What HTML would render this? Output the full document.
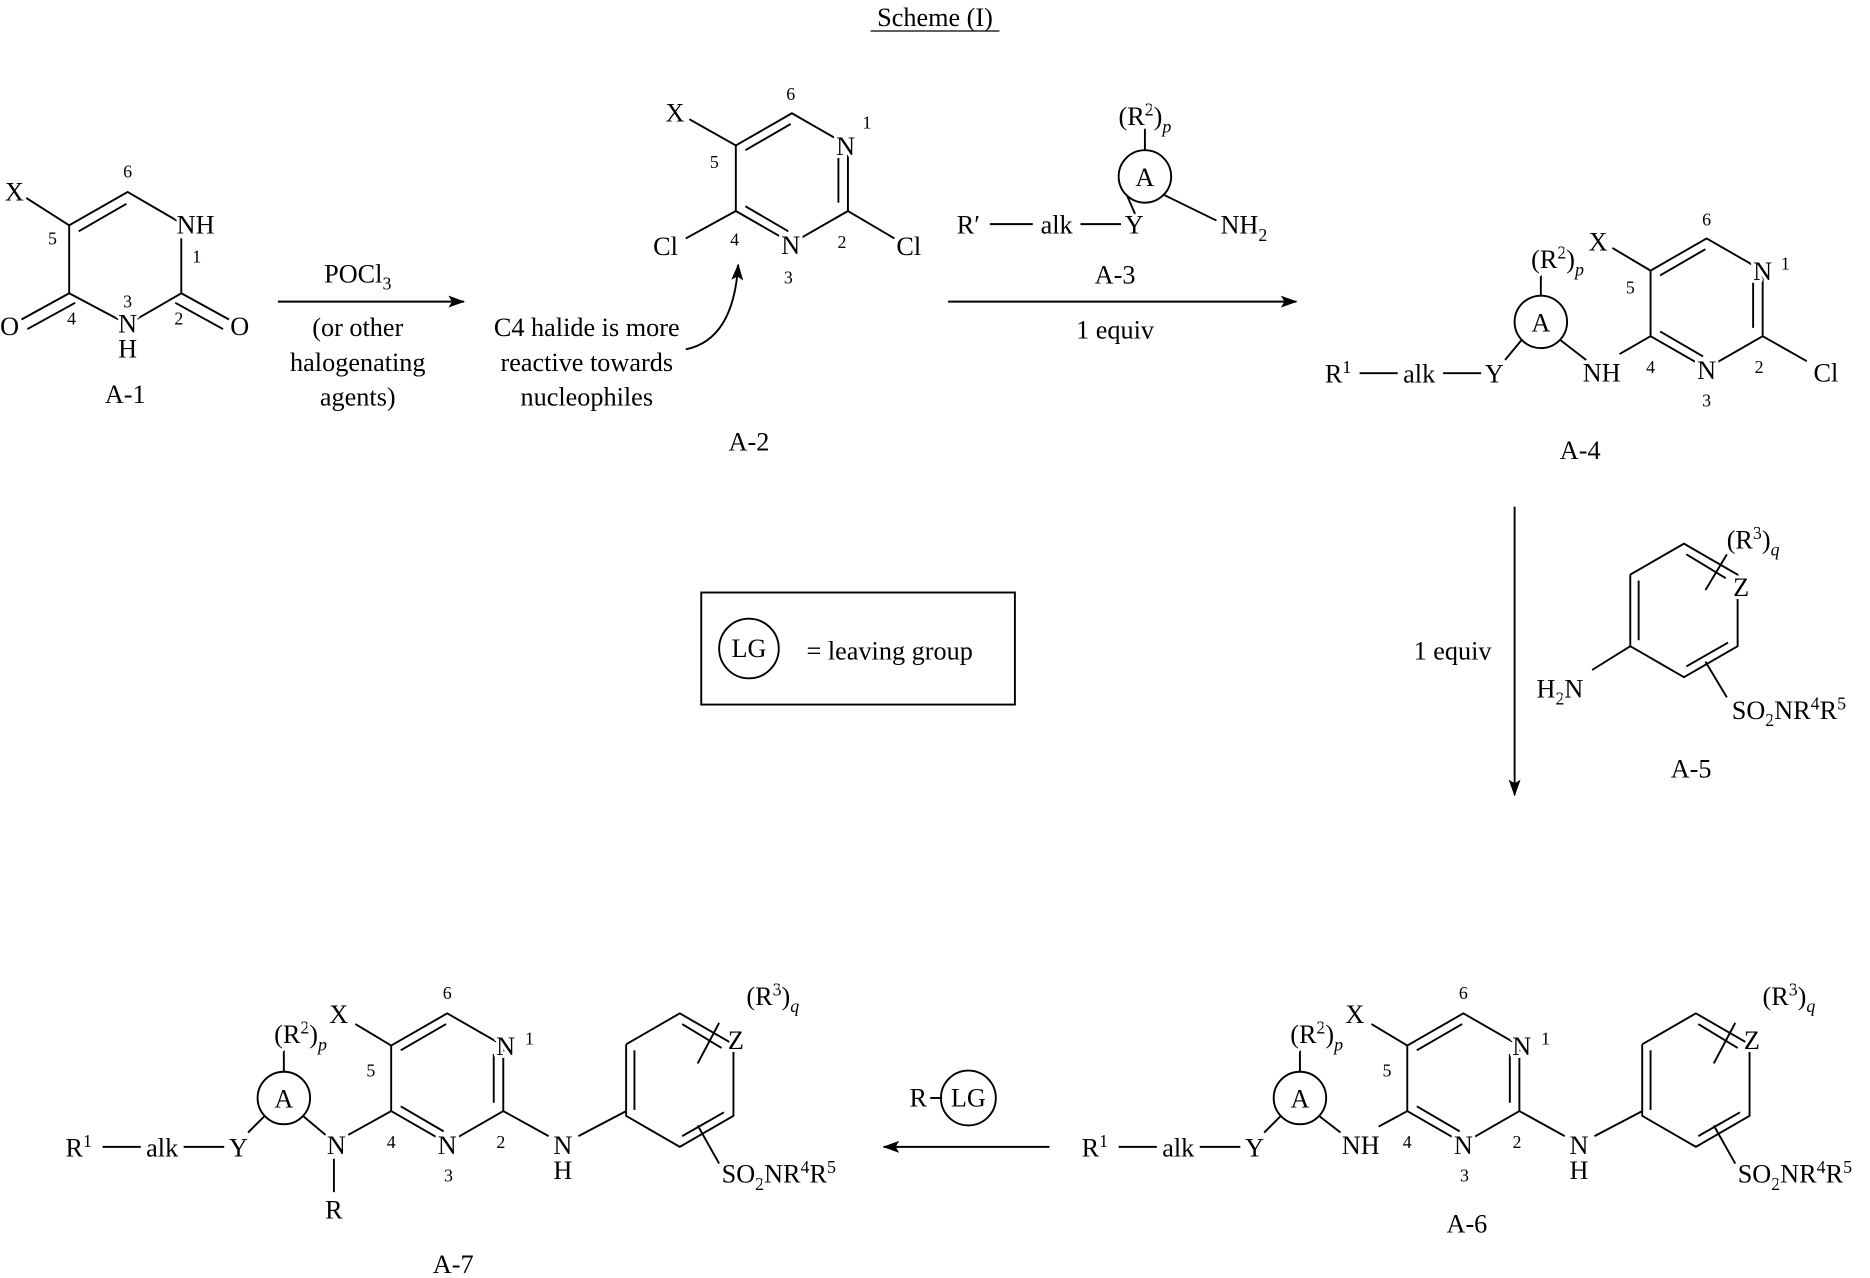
<!DOCTYPE html>
<html><head><meta charset="utf-8"><style>
html,body{margin:0;padding:0;background:#fff;}
svg{display:block;}
text{font-family:"Liberation Serif",serif;fill:#000;stroke:#fff;stroke-width:5px;paint-order:stroke;stroke-linejoin:round;}
.t{font-size:22px;}
.n{font-size:15px;}
line,path,polyline,circle,rect{stroke:#000;stroke-width:1.6;fill:none;}
</style></head><body>
<svg width="1870" height="1278" viewBox="0 0 1568 1072" preserveAspectRatio="none" xmlns="http://www.w3.org/2000/svg">
<defs>
<marker id="ah" markerWidth="14" markerHeight="10" refX="13" refY="5" orient="auto" markerUnits="userSpaceOnUse">
<path d="M0,0 L14,5 L0,10 L3,5 Z" style="fill:#000;stroke:none"/></marker>
<g id="pyr">
<polyline points="0,0 47,-27 94,0 94,55 47,82 0,55 0,0"/>
<line x1="8" y1="4" x2="46" y2="-18"/>
<line x1="86" y1="7" x2="86" y2="48"/>
<line x1="8" y1="51" x2="44" y2="72"/>
</g>
<g id="benz">
<polyline points="0,0 45,-26 90,0 90,60 45,86 0,60 0,0"/>
<line x1="7" y1="5" x2="7" y2="55"/>
<line x1="47" y1="-17" x2="80" y2="3"/>
<line x1="47" y1="77" x2="82" y2="57"/>
</g>
</defs>

<text class="t" x="784" y="22" text-anchor="middle">Scheme (I)</text>
<line x1="730" y1="26" x2="838" y2="26" style="stroke-width:1"/>

<!-- A-1 -->
<polyline points="152,200 152,246 107,272 58,246 58,189 107,161 150,186"/>
<line x1="66" y1="194" x2="106" y2="171"/>
<line x1="58" y1="189" x2="22" y2="166"/>
<line x1="58" y1="246" x2="18" y2="268"/><line x1="63" y1="254" x2="23" y2="276"/>
<line x1="152" y1="246" x2="192" y2="268"/><line x1="147" y1="254" x2="187" y2="276"/>
<text class="t" x="12" y="168" text-anchor="middle">X</text>
<text class="t" x="164" y="196" text-anchor="middle">NH</text>
<text class="t" x="107" y="279" text-anchor="middle">N</text>
<text class="t" x="107" y="300" text-anchor="middle">H</text>
<text class="t" x="8" y="281" text-anchor="middle">O</text>
<text class="t" x="201" y="281" text-anchor="middle">O</text>
<text class="n" x="107" y="149" text-anchor="middle">6</text>
<text class="n" x="44" y="205" text-anchor="middle">5</text>
<text class="n" x="165" y="220" text-anchor="middle">1</text>
<text class="n" x="107" y="258" text-anchor="middle">3</text>
<text class="n" x="60" y="272" text-anchor="middle">4</text>
<text class="n" x="150" y="272" text-anchor="middle">2</text>
<text class="t" x="105" y="338" text-anchor="middle">A-1</text>

<!-- arrow 1 -->
<line x1="233" y1="253" x2="389" y2="253" marker-end="url(#ah)"/>
<text class="t" x="300" y="237" text-anchor="middle">POCl<tspan class="n" dy="6">3</tspan></text>
<text class="t" x="300" y="282" text-anchor="middle">(or other</text>
<text class="t" x="300" y="311" text-anchor="middle">halogenating</text>
<text class="t" x="300" y="340" text-anchor="middle">agents)</text>

<!-- A-2 -->
<use href="#pyr" x="617" y="122"/>
<line x1="617" y1="177" x2="575" y2="200"/>
<line x1="711" y1="177" x2="750" y2="200"/>
<line x1="617" y1="122" x2="578" y2="100"/>
<text class="t" x="566" y="102" text-anchor="middle">X</text>
<text class="t" x="709" y="130" text-anchor="middle">N</text>
<text class="n" x="727" y="108" text-anchor="middle">1</text>
<text class="t" x="663" y="213" text-anchor="middle">N</text>
<text class="t" x="558" y="214" text-anchor="middle">Cl</text>
<text class="t" x="762" y="214" text-anchor="middle">Cl</text>
<text class="n" x="663" y="84" text-anchor="middle">6</text>
<text class="n" x="599" y="141" text-anchor="middle">5</text>
<text class="n" x="616" y="206" text-anchor="middle">4</text>
<text class="n" x="706" y="208" text-anchor="middle">2</text>
<text class="n" x="661" y="238" text-anchor="middle">3</text>
<path d="M575,293 Q615,285 619,222" marker-end="url(#ah)"/>
<text class="t" x="492" y="282" text-anchor="middle">C4 halide is more</text>
<text class="t" x="492" y="311" text-anchor="middle">reactive towards</text>
<text class="t" x="492" y="340" text-anchor="middle">nucleophiles</text>
<text class="t" x="628" y="378" text-anchor="middle">A-2</text>

<!-- A-3 -->
<circle cx="960" cy="148" r="22"/>
<line x1="960" y1="108" x2="960" y2="126"/>
<text class="t" x="960" y="156" text-anchor="middle">A</text>
<text class="t" x="960" y="105" text-anchor="middle">(R<tspan class="n" dy="-8">2</tspan><tspan dy="8">)</tspan><tspan dy="6" font-style="italic" class="n">p</tspan></text>
<line x1="830" y1="188" x2="866" y2="188"/>
<line x1="906" y1="188" x2="940" y2="188"/>
<line x1="952" y1="180" x2="945" y2="164"/>
<line x1="975" y1="163" x2="1020" y2="185"/>
<text class="t" x="812" y="196" text-anchor="middle">R′</text>
<text class="t" x="886" y="196" text-anchor="middle">alk</text>
<text class="t" x="951" y="196" text-anchor="middle">Y</text>
<text class="t" x="1043" y="196" text-anchor="middle">NH<tspan class="n" dy="6">2</tspan></text>
<text class="t" x="935" y="238" text-anchor="middle">A-3</text>

<line x1="795" y1="253" x2="1087" y2="253" marker-end="url(#ah)"/>
<text class="t" x="935" y="284" text-anchor="middle">1 equiv</text>

<!-- A-4 -->
<use href="#pyr" x="1384" y="227"/>
<line x1="1384" y1="227" x2="1352" y2="208"/>
<line x1="1384" y1="282" x2="1358" y2="297"/>
<text class="t" x="1340" y="210" text-anchor="middle">X</text>
<text class="t" x="1478" y="235" text-anchor="middle">N</text>
<text class="n" x="1497" y="226" text-anchor="middle">1</text>
<text class="t" x="1431" y="318" text-anchor="middle">N</text>
<line x1="1478" y1="282" x2="1515" y2="303"/>
<text class="t" x="1531" y="320" text-anchor="middle">Cl</text>
<text class="n" x="1431" y="189" text-anchor="middle">6</text>
<text class="n" x="1367" y="246" text-anchor="middle">5</text>
<text class="n" x="1384" y="313" text-anchor="middle">4</text>
<text class="n" x="1475" y="313" text-anchor="middle">2</text>
<text class="n" x="1431" y="341" text-anchor="middle">3</text>
<text class="t" x="1343" y="320" text-anchor="middle">NH</text>
<circle cx="1292" cy="270" r="22"/>
<line x1="1292" y1="225" x2="1292" y2="248"/>
<text class="t" x="1292" y="278" text-anchor="middle">A</text>
<text class="t" x="1306" y="225" text-anchor="middle">(R<tspan class="n" dy="-8">2</tspan><tspan dy="8">)</tspan><tspan dy="6" font-style="italic" class="n">p</tspan></text>
<line x1="1308" y1="285" x2="1330" y2="302"/>
<line x1="1276" y1="285" x2="1262" y2="302"/>
<line x1="1140" y1="313" x2="1172" y2="313"/>
<line x1="1210" y1="313" x2="1242" y2="313"/>
<text class="t" x="1122" y="321" text-anchor="middle">R<tspan class="n" dy="-8">1</tspan></text>
<text class="t" x="1190" y="321" text-anchor="middle">alk</text>
<text class="t" x="1253" y="321" text-anchor="middle">Y</text>
<text class="t" x="1325" y="385" text-anchor="middle">A-4</text>

<!-- down arrow -->
<line x1="1270" y1="425" x2="1270" y2="667" marker-end="url(#ah)"/>
<text class="t" x="1218" y="553" text-anchor="middle">1 equiv</text>

<!-- A-5 -->
<use href="#benz" x="1367" y="482"/>
<line x1="1367" y1="542" x2="1335" y2="562"/>
<line x1="1430" y1="495" x2="1448" y2="465"/>
<line x1="1430" y1="555" x2="1448" y2="585"/>
<text class="t" x="1460" y="500" text-anchor="middle">Z</text>
<text class="t" x="1308" y="585" text-anchor="middle">H<tspan class="n" dy="6">2</tspan><tspan dy="-6">N</tspan></text>
<text class="t" x="1470" y="460" text-anchor="middle">(R<tspan class="n" dy="-8">3</tspan><tspan dy="8">)</tspan><tspan dy="6" font-style="italic" class="n">q</tspan></text>
<text class="t" x="1500" y="603" text-anchor="middle">SO<tspan class="n" dy="6">2</tspan><tspan dy="-6">NR</tspan><tspan class="n" dy="-8">4</tspan><tspan dy="8">R</tspan><tspan class="n" dy="-8">5</tspan></text>
<text class="t" x="1418" y="652" text-anchor="middle">A-5</text>

<!-- LG box -->
<rect x="588" y="497" width="263" height="94"/>
<circle cx="628" cy="544" r="25"/>
<text class="t" x="628" y="551" text-anchor="middle">LG</text>
<text class="t" x="746" y="553" text-anchor="middle">= leaving group</text>

<!-- A-6 -->
<use href="#pyr" x="1180" y="877"/>
<line x1="1180" y1="877" x2="1150" y2="859"/>
<text class="t" x="1136" y="858" text-anchor="middle">X</text>
<text class="t" x="1276" y="885" text-anchor="middle">N</text>
<text class="n" x="1296" y="876" text-anchor="middle">1</text>
<text class="t" x="1227" y="968" text-anchor="middle">N</text>
<text class="n" x="1227" y="838" text-anchor="middle">6</text>
<text class="n" x="1163" y="903" text-anchor="middle">5</text>
<text class="n" x="1180" y="963" text-anchor="middle">4</text>
<text class="n" x="1272" y="963" text-anchor="middle">2</text>
<text class="n" x="1228" y="991" text-anchor="middle">3</text>
<line x1="1180" y1="932" x2="1156" y2="945"/>
<text class="t" x="1141" y="968" text-anchor="middle">NH</text>
<circle cx="1090" cy="921" r="22"/>
<line x1="1090" y1="876" x2="1090" y2="899"/>
<text class="t" x="1090" y="929" text-anchor="middle">A</text>
<text class="t" x="1104" y="875" text-anchor="middle">(R<tspan class="n" dy="-8">2</tspan><tspan dy="8">)</tspan><tspan dy="6" font-style="italic" class="n">p</tspan></text>
<line x1="1106" y1="936" x2="1124" y2="950"/>
<line x1="1074" y1="936" x2="1060" y2="950"/>
<line x1="938" y1="962" x2="970" y2="962"/>
<line x1="1006" y1="962" x2="1040" y2="962"/>
<text class="t" x="918" y="970" text-anchor="middle">R<tspan class="n" dy="-8">1</tspan></text>
<text class="t" x="988" y="970" text-anchor="middle">alk</text>
<text class="t" x="1052" y="970" text-anchor="middle">Y</text>
<line x1="1274" y1="932" x2="1312" y2="953"/>
<line x1="1337" y1="953" x2="1377" y2="932"/>
<text class="t" x="1324" y="968" text-anchor="middle">N</text>
<text class="t" x="1324" y="989" text-anchor="middle">H</text>
<use href="#benz" x="1377" y="876"/>
<line x1="1437" y1="892" x2="1455" y2="858"/>
<line x1="1437" y1="944" x2="1455" y2="976"/>
<text class="t" x="1469" y="880" text-anchor="middle">Z</text>
<text class="t" x="1500" y="843" text-anchor="middle">(R<tspan class="n" dy="-8">3</tspan><tspan dy="8">)</tspan><tspan dy="6" font-style="italic" class="n">q</tspan></text>
<text class="t" x="1505" y="992" text-anchor="middle">SO<tspan class="n" dy="6">2</tspan><tspan dy="-6">NR</tspan><tspan class="n" dy="-8">4</tspan><tspan dy="8">R</tspan><tspan class="n" dy="-8">5</tspan></text>
<text class="t" x="1230" y="1034" text-anchor="middle">A-6</text>

<!-- left arrow + R-LG -->
<line x1="880" y1="962" x2="741" y2="962" marker-end="url(#ah)"/>
<text class="t" x="770" y="928" text-anchor="middle">R</text>
<line x1="780" y1="921" x2="790" y2="921"/>
<circle cx="812" cy="921" r="23"/>
<text class="t" x="812" y="928" text-anchor="middle">LG</text>

<!-- A-7 -->
<use href="#pyr" x="328" y="877"/>
<line x1="328" y1="877" x2="298" y2="859"/>
<text class="t" x="284" y="858" text-anchor="middle">X</text>
<text class="t" x="424" y="885" text-anchor="middle">N</text>
<text class="n" x="444" y="876" text-anchor="middle">1</text>
<text class="t" x="375" y="968" text-anchor="middle">N</text>
<text class="n" x="375" y="838" text-anchor="middle">6</text>
<text class="n" x="311" y="903" text-anchor="middle">5</text>
<text class="n" x="328" y="963" text-anchor="middle">4</text>
<text class="n" x="420" y="963" text-anchor="middle">2</text>
<text class="n" x="376" y="991" text-anchor="middle">3</text>
<line x1="328" y1="932" x2="292" y2="952"/>
<text class="t" x="282" y="968" text-anchor="middle">N</text>
<line x1="280" y1="972" x2="280" y2="1000"/>
<text class="t" x="280" y="1022" text-anchor="middle">R</text>
<circle cx="238" cy="921" r="22"/>
<line x1="238" y1="876" x2="238" y2="899"/>
<text class="t" x="238" y="929" text-anchor="middle">A</text>
<text class="t" x="252" y="875" text-anchor="middle">(R<tspan class="n" dy="-8">2</tspan><tspan dy="8">)</tspan><tspan dy="6" font-style="italic" class="n">p</tspan></text>
<line x1="254" y1="936" x2="273" y2="952"/>
<line x1="222" y1="936" x2="208" y2="950"/>
<line x1="86" y1="962" x2="118" y2="962"/>
<line x1="154" y1="962" x2="188" y2="962"/>
<text class="t" x="66" y="970" text-anchor="middle">R<tspan class="n" dy="-8">1</tspan></text>
<text class="t" x="136" y="970" text-anchor="middle">alk</text>
<text class="t" x="200" y="970" text-anchor="middle">Y</text>
<line x1="422" y1="932" x2="460" y2="953"/>
<line x1="485" y1="953" x2="525" y2="932"/>
<text class="t" x="472" y="968" text-anchor="middle">N</text>
<text class="t" x="472" y="989" text-anchor="middle">H</text>
<use href="#benz" x="525" y="876"/>
<line x1="585" y1="892" x2="603" y2="858"/>
<line x1="585" y1="944" x2="603" y2="976"/>
<text class="t" x="617" y="880" text-anchor="middle">Z</text>
<text class="t" x="648" y="843" text-anchor="middle">(R<tspan class="n" dy="-8">3</tspan><tspan dy="8">)</tspan><tspan dy="6" font-style="italic" class="n">q</tspan></text>
<text class="t" x="653" y="992" text-anchor="middle">SO<tspan class="n" dy="6">2</tspan><tspan dy="-6">NR</tspan><tspan class="n" dy="-8">4</tspan><tspan dy="8">R</tspan><tspan class="n" dy="-8">5</tspan></text>
<text class="t" x="380" y="1068" text-anchor="middle">A-7</text>
</svg>
</body></html>
